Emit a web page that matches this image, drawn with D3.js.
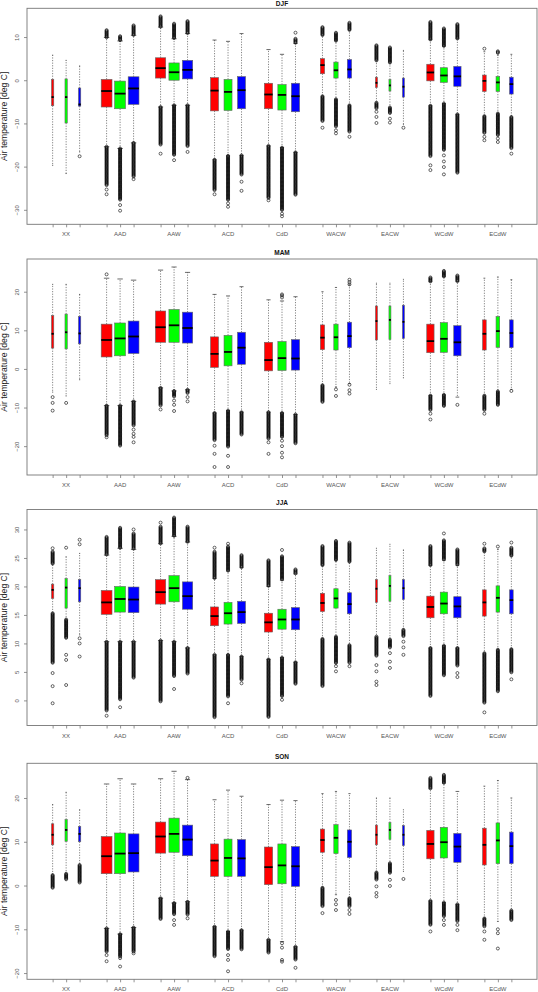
<!DOCTYPE html>
<html>
<head>
<meta charset="utf-8">
<script src="https://cdn.jsdelivr.net/npm/d3@7"></script>
<style>
  html, body { margin: 0; padding: 0; background: #fff; }
  svg { display: block; }
  text { font-family: "Liberation Sans", Arial, Helvetica, sans-serif; }
</style>
</head>
<body>
<svg id="chart" width="538" height="992"></svg>
<script>
// ---------------- DATA ----------------
const categories = ["XX", "AAD", "AAW", "ACD", "CdD", "WACW", "EACW", "WCdW", "ECdW"];
const seriesColors = ["#FF0000", "#00FF00", "#0000FF"];
// relative sample sizes (box width ~ sqrt(n), varwidth)
const sampleSize = [45, 1000, 910, 550, 590, 160, 34, 460, 115];
const seasons = ["DJF", "MAM", "JJA", "SON"];
const yLabel = "Air temperature [deg C]";
const djfTicks = [-30, -20, -10, 0, 10];
const mamTicks = [-20, -10, 0, 10, 20];
const jjaTicks = [0, 5, 10, 15, 20, 25, 30];
const sonTicks = [-20, -10, 0, 10, 20];

// per box: [whiskerLow, q1, median, q3, whiskerHigh]; order: category x (red, green, blue)
const djfStats = [
  [-19.7,-5.9,-3.9,0.2,5.8], [-21.6,-9.9,-3.9,0.3,4.6], [-16.6,-6.0,-5.6,-1.8,3.3],
  [-15.4,-6.2,-2.5,0.2,9.9], [-15.8,-6.6,-3.1,-0.2,9.1], [-14.5,-5.6,-1.9,0.8,10.4],
  [-6.2,0.5,2.8,5.2,12.3], [-5.8,0.0,1.85,4.0,9.6], [-5.8,0.3,2.4,4.6,10.8],
  [-18.4,-7.1,-2.4,0.6,9.3], [-17.5,-7.0,-2.7,0.2,9.0], [-17.4,-6.6,-2.3,0.85,10.8],
  [-15.2,-6.6,-3.3,-0.7,7.1], [-15.6,-6.9,-3.4,-1.0,6.0], [-16.7,-7.3,-3.7,-0.7,8.5],
  [-3.7,1.5,3.5,5.0,10.4], [-4.4,0.5,2.3,4.2,9.1], [-5.8,0.5,2.5,4.8,11.6],
  [-5.2,-1.7,-0.6,0.7,4.5], [-6.3,-2.5,-1.2,0.15,4.0], [-10.2,-3.9,-1.5,0.5,6.9],
  [-5.9,-0.15,1.8,3.7,9.4], [-5.4,-0.5,1.1,2.9,7.9], [-7.9,-1.4,0.9,3.2,9.6],
  [-8.3,-2.6,-0.15,1.2,6.6], [-7.7,-2.6,-0.5,0.9,5.8], [-8.5,-3.2,-0.9,0.7,6.0]
];
// dense outlier runs [from, to]
const djfRuns = [
  [], [], [],
  [[-24.3,-15.4],[9.9,11.6]], [[-27.8,-15.8],[9.1,10.2]], [[-22.4,-14.5],[10.4,12.7]],
  [[-15,-6.2],[12.3,14.8]], [[-17.4,-5.8],[9.6,13.1]], [[-15.4,-5.8],[10.8,13.7]],
  [[-25.5,-18.4]], [[-27.8,-17.5]], [[-22,-17.4]],
  [[-27.4,-15.2]], [[-30.1,-15.6]], [[-26.6,-16.7],[8.5,9.6]],
  [[-9.6,-3.7],[10.4,12.3]], [[-10.8,-4.4],[9.1,11]], [[-12,-5.8],[11.6,13.3]],
  [[-6.6,-5.2],[4.5,8.1]], [[-7.7,-6.3],[4.0,7.6]], [],
  [[-17.7,-5.9],[9.4,13.5]], [[-16.2,-5.4],[7.9,12.0]], [[-21.6,-7.9],[9.6,13]],
  [[-12.3,-8.3]], [[-12.7,-7.7],[6.2,6.7]], [[-15.8,-8.5]]
];
// single outliers
const djfPts = [
  [], [], [-17.6],
  [-25.3,-26.4], [-28.9,-30.2], [-22.9],
  [-17], [-18.5], [-16.6],
  [-26.4], [-28.5,-29.3], [-23.5,-25.6],
  [-27.8], [-30.9,-31.5], [11.0],
  [-11], [-11.6,-12.3], [-13.1],
  [-7.3,-8.5,-9.9], [-8.9,-9.8], [-11],
  [-19.7,-20.8], [-17.4,-18.8,-20.1,-21.8], [],
  [-13.1,-13.9,7.3], [-13.5,-14.3], [-17]
];

const mamStats = [
  [-6.0,5.4,9.1,13.8,21.9], [-7.0,5.2,9.5,14.2,21.9], [-2.8,6.5,9.2,13.6,19.3],
  [-9.5,3.1,7.5,11.6,23.5], [-9.5,3.4,7.9,11.9,23.3], [-8.4,4.0,8.4,12.4,23.0],
  [-4.9,6.9,10.8,15.0,25.6], [-5.7,6.9,11.3,15.4,26.4], [-5.4,6.7,10.6,14.7,25.0],
  [-11.4,0.4,3.9,8.3,19.3], [-10.8,0.8,4.4,8.7,18.9], [-11.2,1.2,5.5,9.5,21.3],
  [-11.2,-0.5,2.3,6.9,17.9], [-11.4,-0.4,2.8,7.1,17.6], [-11.8,-0.3,2.7,7.6,18.7],
  [-4.2,5.0,8.1,11.4,20.0], [-4.7,4.9,8.2,11.6,21.1], [-3.8,5.5,8.5,12.1,21.8],
  [-5.3,7.5,12.4,16.3,22.2], [-3.8,7.6,12.7,16.3,22.2], [-2.3,7.9,12.2,16.5,23.2],
  [-6.9,4.2,7.2,11.6,22.6], [-6.7,4.3,7.8,12.0,23.9], [-7.3,3.4,6.9,11.2,22.6],
  [-6.9,4.9,9.1,12.7,23.5], [-5.8,5.6,9.8,13.6,23.8], [-5.3,5.5,9.3,12.7,23.1]
];
const mamRuns = [
  [], [], [],
  [[-17.3,-9.5]], [[-19.9,-9.5]], [[-14.7,-8.4]],
  [[-9.5,-4.9]], [[-7.3,-5.7]], [[-6.4,-5.4]],
  [[-18.6,-11.4]], [[-20.3,-10.8]], [[-17.1,-11.2]],
  [[-18.1,-11.2]], [[-17.7,-11.4]], [[-19.4,-11.8]],
  [[-8.6,-4.2]], [], [],
  [], [], [],
  [[-10.8,-6.9],[22.6,23.7]], [[-9.6,-6.7],[23.9,25.4]], [[22.6,24.2]],
  [[-10.8,-6.9]], [[-9.5,-5.8]], []
];
const mamPts = [
  [-7.3,-8.8,-10.8], [-8.8], [],
  [-17.7,24.5], [], [-15.7,-16.8,-17.6,-19],
  [-10.5], [-8.2,-9.3,-10.9], [-7.3,-8.4],
  [-19.9,-22,-25.4], [-22.5,-25.4], [],
  [-19,-22], [-18.6,-20,-21.7,-22.9,18.5,19.0,19.3], [],
  [], [-5.3,-7.0], [-4.1,-5.5,-6.4,21.9,22.5,23.1],
  [], [], [],
  [-11.6,-13.1], [], [-9.3],
  [-11.6], [], [-5.7]
];

const jjaStats = [
  [15.3,17.9,19.4,20.4,23.9], [14.2,16.2,19.8,21.4,25.2], [11.5,17.3,19.7,21.2,25.8],
  [10.3,15.1,17.2,19.3,25.5], [10.3,15.5,17.8,20.0,26.7], [10.3,15.4,17.7,19.9,26.5],
  [10.5,16.9,19.0,21.2,27.5], [10.3,17.3,19.7,21.9,28.8], [9.2,16.0,18.3,20.8,27.8],
  [8.0,13.1,14.8,16.4,21.4], [8.0,13.4,15.3,17.2,22.7], [7.7,13.5,15.5,17.4,23.3],
  [7.2,12.0,13.7,15.3,20.0], [7.5,12.5,14.2,16.0,21.1], [6.7,12.4,14.2,16.3,22.2],
  [10.8,15.6,17.1,18.8,23.7], [11.2,16.2,17.9,19.6,24.6], [9.7,15.2,16.9,18.9,24.3],
  [11.2,17.2,19.6,21.2,26.7], [10.7,17.4,20.1,21.9,27.4], [12.4,17.7,19.7,21.2,26.4],
  [9.2,14.5,16.4,18.3,23.7], [9.6,15.2,17.0,19.0,24.6], [9.2,14.5,16.5,18.2,23.7],
  [8.3,14.8,17.2,19.4,26.1], [8.9,15.5,18.0,20.1,26.5], [9.0,15.2,17.6,19.4,25.3]
];
const jjaRuns = [
  [[6.5,15.3],[23.9,26.1]], [[10.9,14.2]], [],
  [[-1.9,10.3],[25.5,28.7]], [[0.1,10.3],[26.7,30.3]], [[3.9,10.3],[26.5,29.3]],
  [[-0.2,10.5],[27.5,30.5]], [[4.2,10.3],[28.8,32.1]], [[4.6,9.2],[27.8,30.5]],
  [[-3.0,8.0],[21.4,26.1]], [[0.7,8.0],[22.7,27.0]], [[3.6,7.7],[23.3,25.5]],
  [[-3.0,7.2],[20.0,24.6]], [[0.7,7.5],[21.1,25.3]], [[2.9,6.7],[22.2,23.0]],
  [[2.5,10.8],[23.7,27.1]], [[6.5,11.2],[24.6,28.0]], [[6.5,9.7],[24.3,27.7]],
  [[7.7,11.2]], [[9.2,10.7]], [[11.2,12.4]],
  [[0.7,9.2],[23.7,27.1]], [[4.3,9.6],[24.6,28.1]], [[6.0,9.2],[23.7,26.5]],
  [[-0.5,8.3],[26.1,26.7]], [[1.6,8.9]], [[4.9,9.0],[25.3,26.8]]
];
const jjaPts = [
  [4.8,2.5,-0.5,26.7], [8.0,7.1,2.7,26.8], [10.9,10.0,7.7,27.4,28.2],
  [-2.7], [-1.2], [30.0],
  [31.2], [2.0], [],
  [26.8], [-0.5,27.5], [3.0],
  [], [0.1,26.4], [],
  [], [6.0,5.1], [6.0],
  [6.2,5.1,3.3,2.7], [8.3,6.8,5.7], [10.3,9.3,8.0],
  [], [29.3], [4.8,4.1],
  [-2.1,27.5], [27.0], [3.7,27.7]
];

const sonStats = [
  [2.4,9.3,11.6,14.1,18.5], [2.7,10.1,12.7,15.1,21.3], [4.7,10.0,11.8,13.5,17.3],
  [-9.8,2.7,6.7,11.2,23.2], [-11.1,2.7,7.3,12.0,24.4], [-9.6,3.1,7.4,11.8,23.2],
  [-2.9,7.4,11.2,14.5,24.4], [-4.0,7.6,11.8,15.4,26.1], [-3.7,6.8,10.5,13.8,24.2],
  [-9.4,2.1,5.7,9.5,19.6], [-10.5,2.1,6.3,10.6,21.8], [-10.2,2.1,6.2,10.5,20.4],
  [-12.4,0.2,4.2,8.8,18.5], [-12.8,0.4,4.6,9.5,19.5], [-14.0,-0.2,4.4,8.9,19.4],
  [-0.5,7.6,10.4,12.9,21.0], [-2.1,7.3,10.9,13.9,21.5], [-2.9,6.4,10.0,12.7,21.0],
  [3.0,9.3,11.6,13.8,20.0], [5.1,10.5,12.7,14.4,20.0], [3.2,9.1,11.6,13.7,17.3],
  [-3.5,6.1,9.5,12.6,22.1], [-3.9,6.3,9.9,13.3,23.4], [-4.3,5.3,8.9,11.9,21.5],
  [-7.5,4.7,9.3,13.1,22.7], [-8.2,5.0,10.3,14.3,24.0], [-5.7,5.0,9.0,12.2,20.0]
];
const sonRuns = [
  [[-0.6,2.4]], [[1.3,2.7]], [[0.5,4.7]],
  [[-15.1,-9.8]], [[-16.3,-11.1]], [[-15.1,-9.6]],
  [[-7.7,-2.9]], [[-6.7,-4.0]], [[-6.7,-3.7]],
  [[-16.3,-9.4]], [[-14.7,-10.5]], [[-14.6,-10.2]],
  [[-15.5,-12.4]], [], [[-17.0,-14.0]],
  [[-4.8,-0.5]], [], [[-4.8,-2.9]],
  [[1.3,3.0]], [[2.8,5.1]], [],
  [[-9.0,-3.5],[22.1,24.6]], [[-7.1,-3.9],[23.4,25.3]], [[-8.2,-4.3]],
  [[-9.4,-7.5]], [], [[-7.9,-5.7]]
];
const sonPts = [
  [], [], [],
  [-15.9,-17.3], [-16.6,-18.5], [-15.5],
  [], [-7.9,-9.0], [-7.5,24.6],
  [], [-15.9,-17,-19.6], [],
  [], [-13.2,-14.2,-17.0,-17.4], [-18.8],
  [-6.3], [-3.3,-4.3,-5.6], [-5.6,-6.5],
  [-0.2,-1.7,-2.5], [1.3,-0.1], [1.5],
  [-10.5], [-7.9,-9.0], [-9.0,-10.2],
  [-10.5,-12.4], [-10.0,-10.9,-14.4], []
];

const seasonStats = [djfStats, mamStats, jjaStats, sonStats];
const seasonRuns = [djfRuns, mamRuns, jjaRuns, sonRuns];
const seasonPts = [djfPts, mamPts, jjaPts, sonPts];
const seasonTicks = [djfTicks, mamTicks, jjaTicks, sonTicks];

// ---------------- LAYOUT ----------------
const panelTops = [8.3, 259, 509.5, 763.3];
const plotH = 216;
const plotL = 27, plotR = 537;

const svg = d3.select("#chart");

// positions: groups of 3 with a gap of one slot
const positions = [];
categories.forEach((c, ci) => seriesColors.forEach((col, si) => positions.push(ci * 4 + si + 1)));
const posExt = d3.extent(positions);
const xLo = posExt[0] - 0.5, xHi = posExt[1] + 0.5;
const xPad = 0.04 * (xHi - xLo);
const x = d3.scaleLinear().domain([xLo - xPad, xHi + xPad]).range([plotL, plotR]);
const unit = x(1) - x(0);
const maxSqrt = Math.sqrt(d3.max(sampleSize));

seasons.forEach((season, pi) => {
  const stats = seasonStats[pi], runs = seasonRuns[pi], pts = seasonPts[pi];
  const top = panelTops[pi], bottom = top + plotH;
  const allVals = [];
  stats.forEach(s => allVals.push(...s));
  runs.forEach(r => r.forEach(rr => allVals.push(...rr)));
  pts.forEach(p => allVals.push(...p));
  const [vmin, vmax] = d3.extent(allVals);
  const pad = 0.04 * (vmax - vmin);
  const y = d3.scaleLinear().domain([vmin - pad, vmax + pad]).range([bottom, top]);

  const g = svg.append("g");

  // frame
  g.append("rect").attr("x", plotL).attr("y", top).attr("width", plotR - plotL).attr("height", plotH)
    .attr("fill", "none").attr("stroke", "#777").attr("stroke-width", 0.9);

  // title
  g.append("text").attr("x", (plotL + plotR) / 2).attr("y", Math.max(top - 4.2, 5.9))
    .attr("text-anchor", "middle").attr("font-size", 6.5).attr("font-weight", "bold")
    .attr("fill", "#111").text(season);

  // y axis
  const yAxis = d3.axisLeft(y).tickValues(seasonTicks[pi]).tickSize(3).tickPadding(2);
  const ya = g.append("g").attr("transform", `translate(${plotL},0)`).call(yAxis);
  ya.select(".domain").remove();
  ya.attr("font-family", null);
  ya.selectAll(".tick line").attr("stroke", "#777").attr("stroke-width", 0.8);
  ya.selectAll(".tick text")
    .attr("font-size", 6).attr("fill", "#555")
    .attr("x", 0).attr("dy", 0)
    .attr("transform", "translate(-8.5,0) rotate(-90)")
    .attr("text-anchor", "middle");

  // y axis title
  g.append("text")
    .attr("transform", `translate(7.2,${(top + bottom) / 2}) rotate(-90)`)
    .attr("text-anchor", "middle").attr("font-size", 8.6).attr("fill", "#222")
    .text(yLabel);

  // x axis ticks
  const xAxis = d3.axisBottom(x).tickValues(positions).tickSize(3).tickFormat(() => "");
  const xa = g.append("g").attr("transform", `translate(0,${bottom})`).call(xAxis);
  xa.select(".domain").remove();
  xa.selectAll(".tick line").attr("stroke", "#777").attr("stroke-width", 0.8);
  // category labels under middle box of group
  g.selectAll("text.cat").data(categories).join("text").attr("class", "cat")
    .attr("x", (c, ci) => x(ci * 4 + 2)).attr("y", bottom + 12)
    .attr("text-anchor", "middle").attr("font-size", 6).attr("fill", "#555")
    .text(c => c);

  // boxes
  stats.forEach((s, i) => {
    const ci = Math.floor(i / 3), si = i % 3;
    const cx = x(positions[i]);
    const hw = unit * 0.4 * Math.sqrt(sampleSize[ci]) / maxSqrt;
    const [lo, q1, med, q3, hi] = s;
    const bg = g.append("g");
    // whiskers
    bg.append("line").attr("x1", cx).attr("x2", cx).attr("y1", y(q3)).attr("y2", y(hi))
      .attr("stroke", "#666").attr("stroke-width", 0.8).attr("stroke-dasharray", "1.2,1.4");
    bg.append("line").attr("x1", cx).attr("x2", cx).attr("y1", y(q1)).attr("y2", y(lo))
      .attr("stroke", "#666").attr("stroke-width", 0.8).attr("stroke-dasharray", "1.2,1.4");
    // staples
    [lo, hi].forEach(v => {
      bg.append("line").attr("x1", cx - hw / 2).attr("x2", cx + hw / 2).attr("y1", y(v)).attr("y2", y(v))
        .attr("stroke", "#444").attr("stroke-width", 0.8);
    });
    // box
    bg.append("rect").attr("x", cx - hw).attr("width", 2 * hw)
      .attr("y", y(q3)).attr("height", y(q1) - y(q3))
      .attr("fill", seriesColors[si]).attr("stroke", "#666").attr("stroke-width", 0.6);
    // median
    bg.append("line").attr("x1", cx - hw).attr("x2", cx + hw).attr("y1", y(med)).attr("y2", y(med))
      .attr("stroke", "#000").attr("stroke-width", 1.8);

    // outliers: dense runs drawn as stacked circles
    const outVals = [];
    runs[i].forEach(([a, b]) => {
      const p0 = Math.min(y(a), y(b)), p1 = Math.max(y(a), y(b));
      d3.range(p0, p1 + 0.01, 0.8).forEach(p => outVals.push(y.invert(p)));
    });
    pts[i].forEach(v => outVals.push(v));
    bg.selectAll("circle.out").data(outVals).join("circle").attr("class", "out")
      .attr("cx", cx).attr("cy", d => y(d)).attr("r", 1.5)
      .attr("fill", "none").attr("stroke", "#000").attr("stroke-width", 0.6);
  });
});
</script>
</body>
</html>
